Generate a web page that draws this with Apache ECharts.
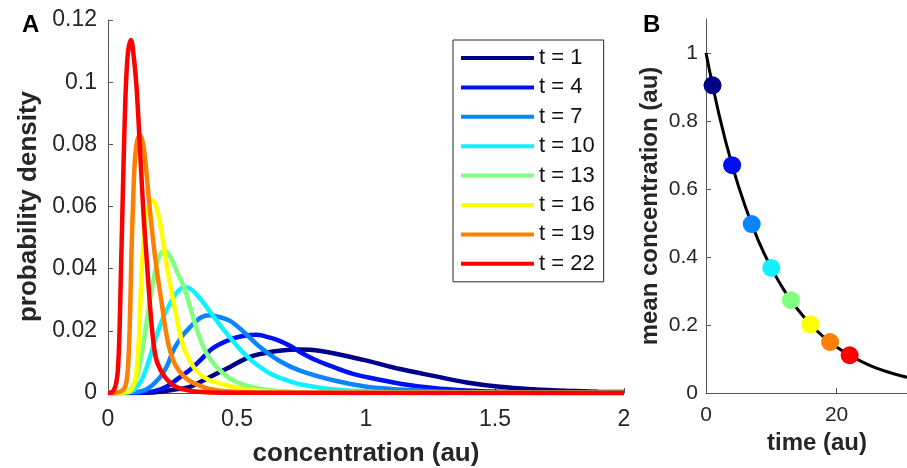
<!DOCTYPE html>
<html><head><meta charset="utf-8">
<script src="https://cdn.jsdelivr.net/npm/echarts@6/dist/echarts.min.js"></script>
<style>html,body{margin:0;padding:0;background:#fff}#c{width:907px;height:468px}</style>
</head><body><div id="c"></div>
<script>
// ---------- Panel A data ----------
const seriesNames = ['t = 1','t = 4','t = 7','t = 10','t = 13','t = 16','t = 19','t = 22'];
const seriesColors = ['#000088','#0010f5','#0a84ff','#10f0ff','#80ff80','#ffff00','#ff8000','#ff0000'];

const xT1 = [0,0.15,0.2,0.25,0.318,0.382,0.473,0.55,0.628,0.705,0.744,0.783,0.873,1.003,1.132,1.261,1.39,1.519,1.649,1.778,1.9,2.0];
const yT1 = [0,0.0001,0.0004,0.001,0.002,0.0046,0.0084,0.0116,0.0132,0.0139,0.014,0.0139,0.0128,0.0104,0.0077,0.0055,0.0034,0.002,0.0012,0.0007,0.0004,0.0003];

const xT4 = [0,0.12,0.18,0.23,0.279,0.318,0.357,0.408,0.473,0.53,0.576,0.628,0.667,0.705,0.744,0.8,0.873,0.94,1.003,1.132,1.261,1.39,1.519,1.7,2.0];
const yT4 = [0,0.0001,0.0006,0.0022,0.0051,0.0075,0.0105,0.0145,0.0172,0.0184,0.0187,0.0178,0.0167,0.0152,0.0132,0.0108,0.0084,0.0064,0.0051,0.003,0.0016,0.0008,0.0004,0.0001,0];

const xT7 = [0,0.1,0.15,0.202,0.23,0.253,0.285,0.318,0.36,0.395,0.43,0.473,0.524,0.589,0.667,0.744,0.873,1.003,1.132,1.3,1.5,2.0];
const yT7 = [0,0.0002,0.0012,0.0051,0.009,0.0137,0.018,0.0212,0.0243,0.025,0.0245,0.0232,0.0198,0.0148,0.0102,0.0072,0.0041,0.002,0.0011,0.0004,0.0001,0];

const xT10 = [0,0.07,0.1,0.13,0.155,0.182,0.215,0.247,0.272,0.297,0.32,0.344,0.37,0.395,0.447,0.499,0.53,0.563,0.628,0.68,0.744,0.86,1.0,1.2,2.0];
const yT10 = [0,0.0002,0.001,0.0041,0.0095,0.0169,0.0245,0.0298,0.0328,0.034,0.0335,0.0316,0.029,0.0262,0.0205,0.0153,0.0125,0.01,0.0063,0.0045,0.0028,0.0013,0.0005,0.0001,0];

const xT13 = [0,0.06,0.085,0.105,0.12,0.135,0.15,0.165,0.18,0.195,0.208,0.221,0.235,0.25,0.27,0.29,0.311,0.33,0.35,0.376,0.4,0.421,0.473,0.53,0.6,0.7,0.85,2.0];
const yT13 = [0,0.0002,0.001,0.0035,0.008,0.0145,0.023,0.031,0.038,0.0432,0.0452,0.0457,0.0448,0.0425,0.0385,0.035,0.0298,0.0243,0.0191,0.0137,0.0105,0.0084,0.0046,0.0025,0.0012,0.0004,0.0001,0];

const xT16 = [0,0.07,0.09,0.105,0.115,0.122,0.129,0.137,0.147,0.16,0.172,0.185,0.2,0.215,0.232,0.253,0.279,0.298,0.331,0.36,0.395,0.473,0.55,0.7,2.0];
const yT16 = [0,0.0002,0.001,0.004,0.011,0.022,0.036,0.048,0.056,0.0608,0.0619,0.0605,0.0555,0.048,0.039,0.0298,0.0191,0.0137,0.0084,0.0058,0.0041,0.0022,0.001,0.0002,0];

const xT19 = [0,0.04,0.055,0.066,0.074,0.081,0.086,0.091,0.097,0.104,0.113,0.124,0.135,0.146,0.16,0.175,0.19,0.208,0.224,0.24,0.26,0.285,0.31,0.343,0.4,0.5,0.65,2.0];
const yT19 = [0,0.0002,0.0008,0.0019,0.005,0.014,0.027,0.045,0.061,0.0745,0.0812,0.0829,0.0805,0.0735,0.061,0.049,0.039,0.029,0.02,0.0137,0.0092,0.0062,0.0042,0.0028,0.0012,0.0003,0.00005,0];

const xT22 = [0,0.015,0.022,0.03,0.038,0.044,0.049,0.054,0.061,0.069,0.078,0.089,0.1,0.111,0.125,0.138,0.15,0.162,0.175,0.188,0.205,0.221,0.245,0.266,0.3,0.35,0.45,2.0];
const yT22 = [0,0.0002,0.0009,0.0025,0.007,0.018,0.035,0.052,0.076,0.098,0.11,0.1136,0.108,0.098,0.077,0.057,0.043,0.029,0.017,0.0105,0.0072,0.0051,0.003,0.0019,0.001,0.0004,0.0001,0];

// ---------- Panel B data ----------
const times = [1,4,7,10,13,16,19,22];
const meanConc = [0.905,0.670,0.497,0.368,0.273,0.202,0.150,0.111];
const curveT = [0,2,4,6,8,10,12,14,16,18,20,22,24,26,28,30,32,34];
const curveY = [1,0.819,0.670,0.549,0.449,0.368,0.301,0.247,0.202,0.165,0.135,0.111,0.091,0.074,0.061,0.050,0.041,0.033];

// tick label values
const ticksBx = [0,20];
const ticksBy = [0,0.2,0.4,0.6,0.8,1];

const FONT = 'Liberation Sans, Arial, Helvetica, sans-serif';
const xs = [xT1,xT4,xT7,xT10,xT13,xT16,xT19,xT22];
const ys = [yT1,yT4,yT7,yT10,yT13,yT16,yT19,yT22];
const zip = (a,b) => a.map((v,i)=>[v,b[i]]);

const axisCommon = {
  axisLine:{show:true,lineStyle:{color:'#555',width:1}},
  axisTick:{show:true,inside:true,length:5,lineStyle:{color:'#555'}},
  splitLine:{show:false}
};

const lineSeries = seriesNames.map((n,i)=>({
  name:n, type:'line', xAxisIndex:0, yAxisIndex:0,
  data: zip(xs[i], ys[i]), showSymbol:false, symbol:'none',
  smooth:0.35,
  lineStyle:{width:4.5,color:seriesColors[i]}, itemStyle:{color:seriesColors[i]},
  emphasis:{disabled:true}, z:2+i
}));

const option = {
  animation:false,
  backgroundColor:'#fff',
  title:[
    {text:'A',left:22,top:13,padding:0,textStyle:{fontSize:24,fontWeight:'bold',color:'#000',fontFamily:FONT}},
    {text:'B',left:643,top:13,padding:0,textStyle:{fontSize:24,fontWeight:'bold',color:'#000',fontFamily:FONT}}
  ],
  legend:{
    data:seriesNames, orient:'vertical', left:453, top:40,
    icon:'rect', itemWidth:73, itemHeight:4, itemGap:7.4,
    padding:[7,9,7,8], borderColor:'#262626', borderWidth:1,
    textStyle:{fontSize:22,lineHeight:22,color:'#111',fontFamily:FONT},
    selectedMode:false
  },
  grid:[
    {left:108,top:20,width:516,height:373,outerBoundsMode:'none',containLabel:false},
    {left:706,top:19,width:222,height:374,outerBoundsMode:'none',containLabel:false}
  ],
  xAxis:[
    Object.assign({},axisCommon,{
      type:'value',gridIndex:0,min:0,max:2,interval:0.5,
      axisLabel:{fontSize:23,color:'#262626',margin:15,fontFamily:FONT},
      name:'concentration (au)',nameLocation:'middle',nameGap:48,
      nameTextStyle:{fontSize:26,fontWeight:'bold',color:'#262626',fontFamily:FONT}
    }),
    Object.assign({},axisCommon,{
      type:'value',gridIndex:1,min:0,max:34,interval:20,
      axisTick:{show:true,inside:true,length:5,lineStyle:{color:'#555'},customValues:ticksBx},
      axisLabel:{fontSize:21,color:'#262626',margin:12,fontFamily:FONT,customValues:ticksBx},
      name:'time (au)',nameLocation:'middle',nameGap:36,
      nameTextStyle:{fontSize:24,fontWeight:'bold',color:'#262626',fontFamily:FONT}
    })
  ],
  yAxis:[
    Object.assign({},axisCommon,{
      type:'value',gridIndex:0,min:0,max:0.12,interval:0.02,
      axisLabel:{fontSize:23,color:'#262626',margin:11,fontFamily:FONT},
      name:'probability density',nameLocation:'middle',nameGap:65,
      nameTextStyle:{fontSize:26,fontWeight:'bold',color:'#262626',fontFamily:FONT}
    }),
    Object.assign({},axisCommon,{
      type:'value',gridIndex:1,min:0,max:1.1,interval:0.2,
      axisTick:{show:true,inside:true,length:5,lineStyle:{color:'#555'},customValues:ticksBy},
      axisLabel:{fontSize:21,color:'#262626',margin:8,fontFamily:FONT,customValues:ticksBy},
      name:'mean concentration (au)',nameLocation:'middle',nameGap:44,
      nameTextStyle:{fontSize:24,fontWeight:'bold',color:'#262626',fontFamily:FONT}
    })
  ],
  series: lineSeries.concat([
    {type:'line',xAxisIndex:1,yAxisIndex:1,data:zip(curveT,curveY),showSymbol:false,symbol:'none',
     smooth:0.4,lineStyle:{width:3,color:'#000'},emphasis:{disabled:true},z:3},
    {type:'scatter',xAxisIndex:1,yAxisIndex:1,symbolSize:18,
     data:times.map((t,i)=>({value:[t,meanConc[i]],itemStyle:{color:seriesColors[i],opacity:1}})),
     itemStyle:{opacity:1},emphasis:{disabled:true},z:5}
  ])
};

const chart = echarts.init(document.getElementById('c'),null,{renderer:'canvas'});
chart.setOption(option);
</script></body></html>
